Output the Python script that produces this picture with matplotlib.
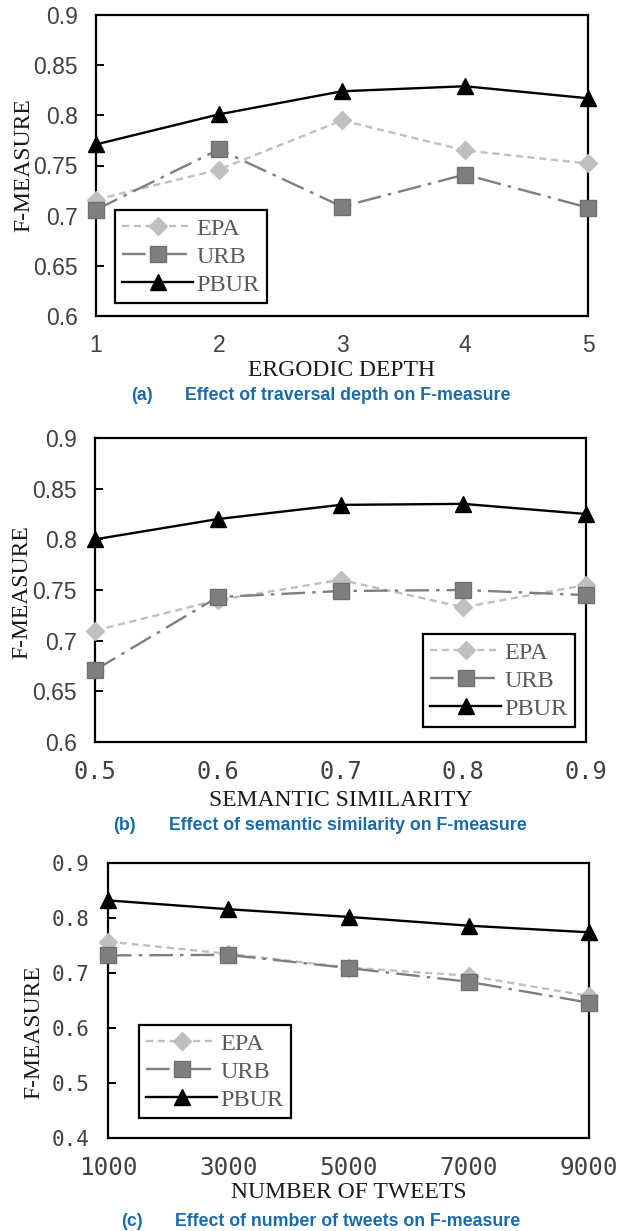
import matplotlib
matplotlib.use('Agg')
import matplotlib.pyplot as plt

# data
depth = [1, 2, 3, 4, 5]
epa_a = [0.716, 0.746, 0.795, 0.765, 0.752]
urb_a = [0.706, 0.766, 0.709, 0.741, 0.708]
pbur_a = [0.771, 0.801, 0.824, 0.829, 0.817]

similarity = [0.5, 0.6, 0.7, 0.8, 0.9]
epa_b = [0.710, 0.740, 0.760, 0.733, 0.755]
urb_b = [0.671, 0.743, 0.749, 0.750, 0.745]
pbur_b = [0.800, 0.820, 0.834, 0.835, 0.825]

tweets = [1000, 3000, 5000, 7000, 9000]
epa_c = [0.757, 0.735, 0.710, 0.695, 0.658]
urb_c = [0.732, 0.733, 0.709, 0.684, 0.646]
pbur_c = [0.832, 0.816, 0.802, 0.786, 0.774]

W, H = 630, 1231
fig = plt.figure(figsize=(W / 100, H / 100), dpi=100)

SERIF = 'Liberation Serif'
SANS = 'Liberation Sans'
MONO = 'DejaVu Sans Mono'
TICKC = '#404040'
BLUE = '#1a6aa8'


def px_axes(l, t, r, b):
    return fig.add_axes([l / W, 1 - b / H, (r - l) / W, (b - t) / H])


def draw(ax, x, epa, urb, pbur):
    ax.plot(x, epa, color='#bfbfbf', lw=1.7, dashes=[3, 2], marker='D',
            ms=9, mfc='#bfbfbf', mec='#bfbfbf', label='EPA', zorder=3,
            clip_on=False)
    ax.plot(x, urb, color='#7f7f7f', lw=1.7, dashes=[10, 3, 1.5, 3], marker='s',
            ms=12, mfc='#7f7f7f', mec='#707070', label='URB', zorder=4,
            clip_on=False)
    ax.plot(x, pbur, color='black', lw=1.7, marker='^', ms=11,
            mfc='black', mec='black', label='PBUR', zorder=5, clip_on=False)
    for s in ax.spines.values():
        s.set_linewidth(1.6)
        s.set_color('black')
    ax.tick_params(axis='y', direction='in', length=6, width=1.4, pad=13,
                   colors='black', labelcolor=TICKC)
    ax.tick_params(axis='x', length=0, pad=13, labelcolor=TICKC)


def legend(ax, lx, by):
    leg = ax.legend(loc='lower left', bbox_to_anchor=(lx / W, 1 - by / H),
                    bbox_transform=fig.transFigure, fancybox=False,
                    framealpha=1, edgecolor='black', borderaxespad=0,
                    prop={'family': SERIF, 'size': 17.5}, handlelength=2.9,
                    handletextpad=0.15, labelspacing=0.25, borderpad=0.3)
    leg.get_frame().set_linewidth(1.6)
    leg.set_zorder(10)
    for t in leg.get_texts():
        t.set_color('#595959')


def caption(ycen, tag, text):
    t = fig.text(348 / W, 1 - ycen / H, text, ha='center', va='center',
                 family=SANS, weight='bold', size=12.8, color=BLUE)
    fig.canvas.draw()
    bb = t.get_window_extent()
    fig.text((bb.x0 - 33) / W, 1 - ycen / H, tag, ha='right', va='center',
             family=SANS, weight='bold', size=12.8, color=BLUE)


def labels(ax, xl, xl_y, yl_x, yl_y, top, bottom, left, right):
    h = bottom - top
    w = right - left
    ax.set_xlabel(xl, family=SERIF, size=17, color='#1a1a1a')
    ax.xaxis.set_label_coords(0.5, -(xl_y - bottom) / h)
    ax.xaxis.label.set_va('center')
    ax.set_ylabel('F-MEASURE', family=SERIF, size=17, color='#1a1a1a')
    ax.yaxis.set_label_coords((yl_x - left) / w, (bottom - yl_y) / h)
    ax.yaxis.label.set_va('center')


# (a)
ax1 = px_axes(96, 15, 588, 316)
draw(ax1, depth, epa_a, urb_a, pbur_a)
ax1.set_xlim(1, 5)
ax1.set_ylim(0.6, 0.9)
ax1.set_xticks(depth)
ax1.set_yticks([0.6, 0.65, 0.7, 0.75, 0.8, 0.85, 0.9])
ax1.set_yticklabels(['0.6', '0.65', '0.7', '0.75', '0.8', '0.85', '0.9'])
for t in ax1.get_xticklabels() + ax1.get_yticklabels():
    t.set_family(SANS)
    t.set_size(16.5)
labels(ax1, 'ERGODIC DEPTH', 370, 24, 165, 15, 316, 96, 588)
legend(ax1, 115, 303)

# (b)
ax2 = px_axes(95, 438, 586, 742)
draw(ax2, similarity, epa_b, urb_b, pbur_b)
ax2.set_xlim(0.5, 0.9)
ax2.set_ylim(0.6, 0.9)
ax2.set_xticks(similarity)
ax2.set_xticklabels(['0.5', '0.6', '0.7', '0.8', '0.9'])
ax2.set_yticks([0.6, 0.65, 0.7, 0.75, 0.8, 0.85, 0.9])
ax2.set_yticklabels(['0.6', '0.65', '0.7', '0.75', '0.8', '0.85', '0.9'])
for t in ax2.get_yticklabels():
    t.set_family(SANS)
    t.set_size(16.5)
for t in ax2.get_xticklabels():
    t.set_family(MONO)
    t.set_size(17)
labels(ax2, 'SEMANTIC SIMILARITY', 800, 22, 592, 438, 742, 95, 586)
legend(ax2, 423, 727)

# (c)
ax3 = px_axes(108, 863, 589, 1138)
draw(ax3, tweets, epa_c, urb_c, pbur_c)
ax3.set_xlim(1000, 9000)
ax3.set_ylim(0.4, 0.9)
ax3.set_xticks(tweets)
ax3.set_xticklabels([str(v) for v in tweets])
ax3.set_yticks([0.4, 0.5, 0.6, 0.7, 0.8, 0.9])
ax3.set_yticklabels(['0.4', '0.5', '0.6', '0.7', '0.8', '0.9'])
for t in ax3.get_yticklabels():
    t.set_family(MONO)
    t.set_size(15)
for t in ax3.get_xticklabels():
    t.set_family(MONO)
    t.set_size(17.5)
labels(ax3, 'NUMBER OF TWEETS', 1193, 34, 1032, 863, 1138, 108, 589)
legend(ax3, 139, 1118)

caption(395, '(a)', 'Effect of traversal depth on F-measure')
caption(825, '(b)', 'Effect of semantic similarity on F-measure')
caption(1222, '(c)', 'Effect of number of tweets on F-measure')

fig.savefig('out.png', dpi=100)
